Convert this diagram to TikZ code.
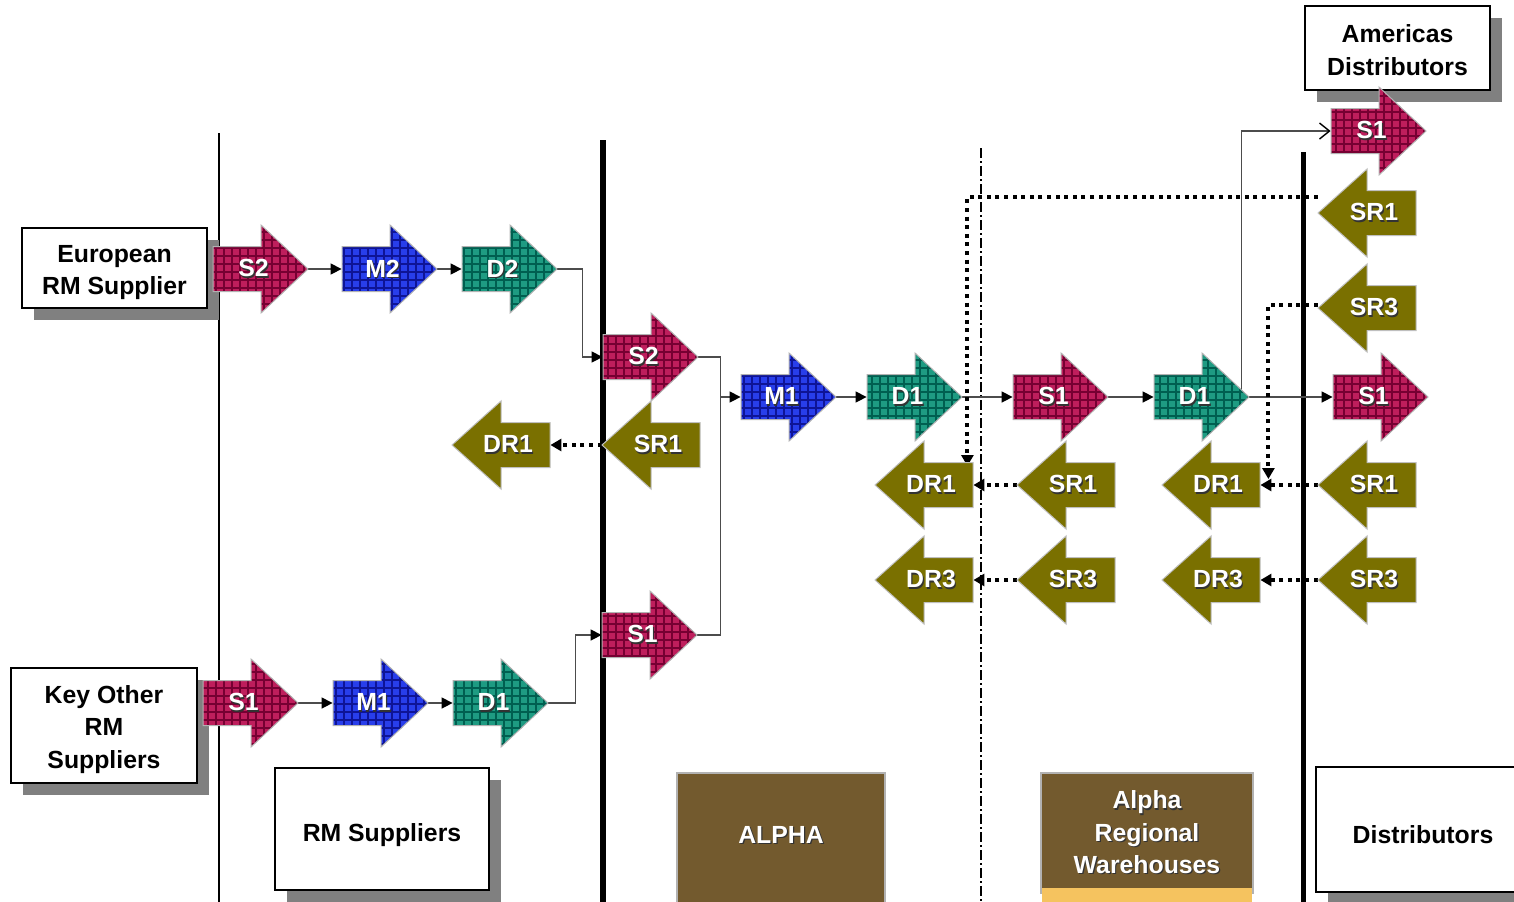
\documentclass[tikz,border=0pt]{standalone}
\usepackage{fontspec}
\setmainfont{Liberation Sans}
\usetikzlibrary{arrows.meta,calc,shadows}
\pgfdeclarelayer{bg}
\pgfsetlayers{bg,main}

\definecolor{sred}{RGB}{190,30,92}
\definecolor{sredline}{RGB}{118,0,50}
\definecolor{mblue}{RGB}{40,62,235}
\definecolor{mblueline}{RGB}{14,20,150}
\definecolor{dteal}{RGB}{30,155,130}
\definecolor{dtealline}{RGB}{0,95,80}
\definecolor{retolive}{RGB}{122,112,0}
\definecolor{alphabrown}{RGB}{115,90,46}
\definecolor{stripcol}{RGB}{245,195,95}
\definecolor{shadowgray}{RGB}{128,128,128}

\newcommand\lblfont{\fontsize{12.4pt}{16.2pt}\selectfont\bfseries}
\newcommand\shtext[1]{\makebox[0pt][l]{\kern0.6pt\raisebox{-0.6pt}{\color{black!80}#1}}#1}

% right-pointing arrow: name, cx, cy, style, label
\newcommand\myR[5]{%
  \path[#4] (#2-47,#3-22.5) -- (#2+1,#3-22.5) -- (#2+1,#3-44) -- (#2+48,#3)
     -- (#2+1,#3+44) -- (#2+1,#3+22.5) -- (#2-47,#3+22.5) -- cycle;
  \node[lab, minimum width=47.5pt] (#1) at (#2+0.5,#3) {\makebox[0pt]{\shtext{#5}\kern7pt}};
}
% left-pointing return arrow: name, cx, cy, label
\newcommand\myL[4]{%
  \path[retarr] (#2-49,#3) -- (#2,#3-44) -- (#2,#3-22.5) -- (#2+49,#3-22.5)
     -- (#2+49,#3+22.5) -- (#2,#3+22.5) -- (#2,#3+44) -- cycle;
  \node[lab, minimum width=49pt] (#1) at (#2,#3) {\makebox[0pt]{\kern7pt\shtext{#4}}};
}

\tikzset{
  gridS/.style={fill=sred, draw=black!30, line width=0.5pt,
    path picture={\draw[sredline, line width=1pt] (path picture bounding box.south west) grid[step=4pt] (path picture bounding box.north east);}},
  gridM/.style={fill=mblue, draw=black!30, line width=0.5pt,
    path picture={\draw[mblueline, line width=1pt] (path picture bounding box.south west) grid[step=4pt] (path picture bounding box.north east);}},
  gridD/.style={fill=dteal, draw=black!30, line width=0.5pt,
    path picture={\draw[dtealline, line width=1pt] (path picture bounding box.south west) grid[step=4pt] (path picture bounding box.north east);}},
  retarr/.style={fill=retolive, draw=black!25, line width=0.5pt},
  lab/.style={text=white, font=\lblfont, inner sep=0pt, minimum height=44pt},
  wbox/.style={draw=black, line width=0.8pt, fill=white, align=center, inner sep=0pt, font=\lblfont},
  bbox/.style={fill=alphabrown, draw=gray!60, line width=0.6pt, text=white, align=center, inner sep=0pt, font=\lblfont},
  shd/.style={drop shadow={shadow xshift=6pt, shadow yshift=-6pt, fill=shadowgray, opacity=1}},
  conn/.style={draw=black!70, line width=0.7pt},
  tri/.style={-{Triangle[length=5.5pt,width=5.5pt,color=black,fill=black]}},
  dotc/.style={draw=black, line width=2pt, dash pattern=on 2pt off 2.3pt, -{Triangle[length=5.5pt,width=6pt]}},
}

\begin{document}
\begin{tikzpicture}[x=0.5pt,y=-0.5pt]
\useasboundingbox (0,0) rectangle (1514,901);

% ---- boxes ----
\node[wbox, shd, minimum width=92.5pt, minimum height=40pt] (euro) at (114.5,268) {\rule{0pt}{13pt}European\\RM Supplier};
\node[wbox, shd, minimum width=93pt, minimum height=57.5pt] (key) at (104,725.5) {\rule{0pt}{13pt}Key Other\\RM\\Suppliers};
\node[wbox, shd, minimum width=107pt, minimum height=61pt, text height=15pt] (rms) at (382,829) {RM Suppliers};
\node[bbox, minimum width=104pt, minimum height=66pt, text depth=4pt] (alpha) at (781,839) {\shtext{ALPHA}};
\node[bbox, minimum width=106pt, minimum height=60pt] (arw) at (1147,833) {\shtext{Alpha}\\\shtext{Regional}\\\shtext{Warehouses}};
\fill[stripcol] (1041.6,888) rectangle (1252.4,906);
\node[wbox, shd, minimum width=107pt, minimum height=62.5pt, text height=14.4pt] (dist) at (1423,829.5) {Distributors};
\node[wbox, shd, minimum width=92.5pt, minimum height=42pt] (amer) at (1397.5,48) {\rule{0pt}{11pt}Americas\\Distributors};

% ---- process arrows ----
\myR{eS2}{260}{269}{gridS}{S2}
\myR{eM2}{389}{269}{gridM}{M2}
\myR{eD2}{509}{269}{gridD}{D2}
\myR{kS1}{250}{703}{gridS}{S1}
\myR{kM1}{380}{703}{gridM}{M1}
\myR{kD1}{500}{703}{gridD}{D1}
\myR{aS2}{650}{357}{gridS}{S2}
\myL{aSR1}{651}{445}{SR1}
\myL{aDR1}{501}{445}{DR1}
\myR{aS1}{649}{635}{gridS}{S1}
\myR{aM1}{788}{397}{gridM}{M1}
\myR{aD1}{914}{397}{gridD}{D1}
\myR{wS1}{1060}{397}{gridS}{S1}
\myR{wD1}{1201}{397}{gridD}{D1}
\myL{wDR1L}{924}{485}{DR1}
\myL{wSR1}{1066}{485}{SR1}
\myL{wDR1}{1211}{485}{DR1}
\myL{wDR3L}{924}{580}{DR3}
\myL{wSR3}{1066}{580}{SR3}
\myL{wDR3}{1211}{580}{DR3}
\myR{dS1top}{1378}{131}{gridS}{S1}
\myL{dSR1top}{1367}{213}{SR1}
\myL{dSR3top}{1367}{308}{SR3}
\myR{dS1}{1380}{397}{gridS}{S1}
\myL{dSR1}{1367}{485}{SR1}
\myL{dSR3}{1367}{580}{SR3}

\begin{pgfonlayer}{bg}
  % separators
  \draw[black, line width=1pt] (219,133) -- (219,906);
  \draw[black, line width=3pt] (603,140) -- (603,906);
  \draw[black, line width=0.7pt, dash pattern=on 5pt off 1.5pt on 1pt off 1.5pt] (981,148) -- (981,906);
  \draw[black, line width=2.5pt] (1303,152) -- (1303,906);

  % solid flows
  \draw[conn,tri] (eS2.east) -- (eM2.west);
  \draw[conn,tri] (eM2.east) -- (eD2.west);
  \draw[conn,tri] (eD2.east) -- ++(25,0) |- (aS2.west);
  \draw[conn,tri] (kS1.east) -- (kM1.west);
  \draw[conn,tri] (kM1.east) -- (kD1.west);
  \draw[conn,tri] (kD1.east) -- ++(27,0) |- (aS1.west);
  \coordinate (j1) at ($(aS2.east)+(22,0)$);
  \draw[conn] (aS2.east) -- (j1) |- (aS1.east);
  \draw[conn,tri] (j1 |- aM1.west) -- (aM1.west);
  \draw[conn,tri] (aM1.east) -- (aD1.west);
  \draw[conn,tri] (aD1.east) -- (wS1.west);
  \draw[conn,tri] (wS1.east) -- (wD1.west);
  \draw[conn,tri] (wD1.east) -- (dS1.west);
  \draw[conn, -{Straight Barb[length=5pt,width=8pt,color=black]}] ($(wD1.east)+(-8,-7.5)$) |- (dS1top.west);

  % return flows
  \draw[dotc] (aSR1.west) -- (aDR1.east);
  \draw[dotc] (wSR1.west) -- (wDR1L.east);
  \draw[dotc] (wSR3.west) -- (wDR3L.east);
  \draw[dotc] (dSR1.west) -- (wDR1.east);
  \draw[dotc] (dSR3.west) -- (wDR3.east);
  \draw[dotc] ($(dSR1top.west)+(0,-16)$) -| ($(wDR1L.east)+(-6,-19)$);
  \draw[dotc] ($(dSR3top.west)+(0,-3)$) -| ($(wDR1.east)+(8,-6)$);
\end{pgfonlayer}
\end{tikzpicture}
\end{document}
